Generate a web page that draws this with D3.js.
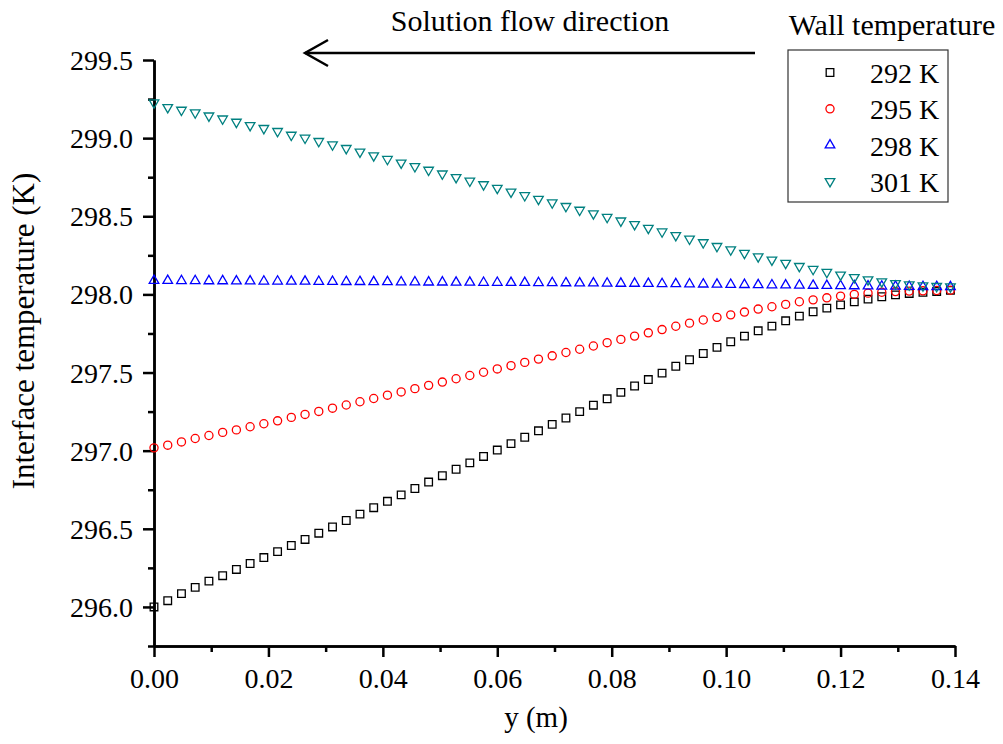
<!DOCTYPE html>
<html lang="en">
<head>
    <meta charset="UTF-8">
    <title>Interface temperature</title>
    <script src="https://d3js.org/d3.v7.min.js"></script>
    <style>
        body { margin: 0; background: #fff; }
        text { font-family: "Liberation Serif", "Times New Roman", serif; fill: #000; }
        .axis path, .axis line { stroke: #000; stroke-width: 2.5px; }
    </style>
</head>
<body>
    <script>
        // Data
        const yPos = [0, 0.0024, 0.0048, 0.0072, 0.0096, 0.012, 0.0144, 0.0168, 0.0192, 0.0216,
            0.024, 0.0264, 0.0288, 0.0312, 0.0336, 0.036, 0.0384, 0.0408, 0.0432, 0.0456,
            0.048, 0.0504, 0.0528, 0.0552, 0.0576, 0.06, 0.0624, 0.0648, 0.0672, 0.0696,
            0.072, 0.0744, 0.0768, 0.0792, 0.0816, 0.084, 0.0864, 0.0888, 0.0912, 0.0936,
            0.096, 0.0984, 0.1008, 0.1032, 0.1056, 0.108, 0.1104, 0.1128, 0.1152, 0.1176,
            0.12, 0.1224, 0.1248, 0.1272, 0.1296, 0.132, 0.1344, 0.1368, 0.1392];

        const wall292 = [296.000, 296.040, 296.085, 296.125, 296.165, 296.200, 296.240, 296.278, 296.316, 296.354,
            296.393, 296.432, 296.472, 296.512, 296.553, 296.594, 296.635, 296.676, 296.717, 296.758,
            296.799, 296.840, 296.881, 296.922, 296.963, 297.004, 297.045, 297.086, 297.127, 297.168,
            297.209, 297.250, 297.291, 297.332, 297.373, 297.414, 297.455, 297.496, 297.540, 297.582,
            297.622, 297.661, 297.697, 297.733, 297.767, 297.797, 297.831, 297.861, 297.889, 297.912,
            297.933, 297.952, 297.970, 297.985, 297.997, 298.006, 298.013, 298.019, 298.026];

        const wall295 = [297.018, 297.035, 297.056, 297.078, 297.097, 297.117, 297.133, 297.153, 297.172, 297.191,
            297.213, 297.232, 297.251, 297.272, 297.292, 297.313, 297.334, 297.355, 297.376, 297.397,
            297.418, 297.439, 297.460, 297.481, 297.502, 297.523, 297.544, 297.565, 297.586, 297.607,
            297.628, 297.649, 297.670, 297.691, 297.712, 297.733, 297.754, 297.775, 297.796, 297.816,
            297.836, 297.853, 297.869, 297.887, 297.906, 297.921, 297.936, 297.953, 297.965, 297.978,
            297.989, 298.000, 298.008, 298.014, 298.018, 298.021, 298.023, 298.025, 298.027];

        const wall298 = [298.088, 298.088, 298.087, 298.087, 298.086, 298.086, 298.085, 298.085, 298.084, 298.084,
            298.083, 298.083, 298.082, 298.082, 298.081, 298.081, 298.080, 298.080, 298.079, 298.079,
            298.078, 298.078, 298.077, 298.077, 298.076, 298.076, 298.075, 298.075, 298.074, 298.074,
            298.073, 298.072, 298.072, 298.071, 298.070, 298.070, 298.069, 298.068, 298.067, 298.066,
            298.065, 298.064, 298.063, 298.062, 298.061, 298.060, 298.059, 298.058, 298.057, 298.056,
            298.055, 298.054, 298.053, 298.052, 298.051, 298.050, 298.049, 298.049, 298.048];

        const wall301 = [299.227, 299.197, 299.180, 299.163, 299.143, 299.124, 299.103, 299.082, 299.063, 299.044,
            299.020, 299.001, 298.980, 298.958, 298.935, 298.912, 298.888, 298.865, 298.842, 298.819,
            298.796, 298.772, 298.749, 298.726, 298.703, 298.680, 298.656, 298.633, 298.610, 298.587,
            298.564, 298.540, 298.517, 298.494, 298.471, 298.448, 298.424, 298.401, 298.378, 298.355,
            298.332, 298.308, 298.286, 298.264, 298.242, 298.221, 298.200, 298.180, 298.161, 298.142,
            298.125, 298.109, 298.095, 298.082, 298.071, 298.062, 298.056, 298.052, 298.050];

        const seriesNames = ["292 K", "295 K", "298 K", "301 K"];
        const seriesValues = [wall292, wall295, wall298, wall301];
        const seriesColors = ["#000000", "#ff0000", "#0000ff", "#008080"];
        const seriesSymbols = ["square", "circle", "up", "down"];

        const xTicks = [0, 0.02, 0.04, 0.06, 0.08, 0.10, 0.12, 0.14];
        const yTicks = [296.0, 296.5, 297.0, 297.5, 298.0, 298.5, 299.0, 299.5];

        const width = 1003;
        const height = 744;

        const svg = d3.select("body")
            .append("svg")
            .attr("width", width)
            .attr("height", height);

        const x = d3.scaleLinear().domain([0, 0.14]).range([154, 955]);
        const y = d3.scaleLinear().domain([295.75, 299.5]).range([646, 60]);

        // minor ticks
        const xMinor = d3.range(0.01, 0.14, 0.02);
        const yMinor = d3.range(295.75, 299.5, 0.5);

        svg.append("g")
            .attr("class", "axis")
            .attr("transform", "translate(0,646)")
            .call(d3.axisBottom(x).tickValues(xMinor).tickSize(6).tickFormat("").tickSizeOuter(0));
        svg.append("g")
            .attr("class", "axis")
            .attr("transform", "translate(154,0)")
            .call(d3.axisLeft(y).tickValues(yMinor).tickSize(6).tickFormat("").tickSizeOuter(0));

        const xAxis = svg.append("g")
            .attr("class", "axis")
            .attr("transform", "translate(0,646)")
            .call(d3.axisBottom(x).tickValues(xTicks).tickSize(11).tickSizeOuter(0)
                .tickFormat(d3.format(".2f")));
        xAxis.selectAll("text")
            .attr("font-size", 28).attr("dy", 0).attr("y", 42);

        const yAxis = svg.append("g")
            .attr("class", "axis")
            .attr("transform", "translate(154,0)")
            .call(d3.axisLeft(y).tickValues(yTicks).tickSize(11).tickSizeOuter(0)
                .tickFormat(d3.format(".1f")));
        yAxis.selectAll("text")
            .attr("font-size", 28).attr("x", -21).attr("dy", "0.34em");
        svg.selectAll(".axis text").style("font-family", "'Liberation Serif', 'Times New Roman', serif");

        // markers
        function symbolPath(kind) {
            if (kind === "square") return d3.symbol(d3.symbolSquare, 58)();
            if (kind === "circle") return d3.symbol(d3.symbolCircle, 52)();
            return d3.symbol(d3.symbolTriangle, 40)();
        }
        function symbolTransform(kind, px, py) {
            return kind === "down" ? `translate(${px},${py}) rotate(180)` : `translate(${px},${py})`;
        }

        seriesValues.forEach((vals, i) => {
            svg.append("g")
                .selectAll("path")
                .data(vals)
                .enter()
                .append("path")
                .attr("d", symbolPath(seriesSymbols[i]))
                .attr("transform", (d, j) => symbolTransform(seriesSymbols[i], x(yPos[j]), y(d)))
                .attr("fill", "none")
                .attr("stroke", seriesColors[i])
                .attr("stroke-width", 1.3);
        });

        // flow direction arrow
        svg.append("text")
            .attr("x", 530).attr("y", 31)
            .attr("text-anchor", "middle")
            .attr("font-size", 30)
            .text("Solution flow direction");
        const arrow = svg.append("g")
            .attr("fill", "none")
            .attr("stroke", "#000")
            .attr("stroke-width", 2.5);
        arrow.append("line").attr("x1", 305).attr("y1", 53).attr("x2", 755).attr("y2", 53);
        arrow.append("polyline").attr("points", "328,40 305,53 328,66");

        // legend
        svg.append("text")
            .attr("x", 892).attr("y", 35)
            .attr("text-anchor", "middle")
            .attr("font-size", 30)
            .text("Wall temperature");
        svg.append("rect")
            .attr("x", 788).attr("y", 50)
            .attr("width", 160).attr("height", 152)
            .attr("fill", "none")
            .attr("stroke", "#333")
            .attr("stroke-width", 1.2);
        seriesNames.forEach((name, i) => {
            const cy = 72.5 + i * 36.3;
            svg.append("path")
                .attr("d", symbolPath(seriesSymbols[i]))
                .attr("transform", symbolTransform(seriesSymbols[i], 830, cy))
                .attr("fill", "none")
                .attr("stroke", seriesColors[i])
                .attr("stroke-width", 1.3);
            svg.append("text")
                .attr("x", 870).attr("y", cy + 10.5)
                .attr("font-size", 28)
                .text(name);
        });

        // axis titles
        svg.append("text")
            .attr("x", 536).attr("y", 727)
            .attr("text-anchor", "middle")
            .attr("font-size", 29)
            .text("y (m)");
        svg.append("text")
            .attr("transform", "translate(34,331) rotate(-90)")
            .attr("text-anchor", "middle")
            .attr("font-size", 31)
            .text("Interface temperature (K)");
    </script>
</body>
</html>
